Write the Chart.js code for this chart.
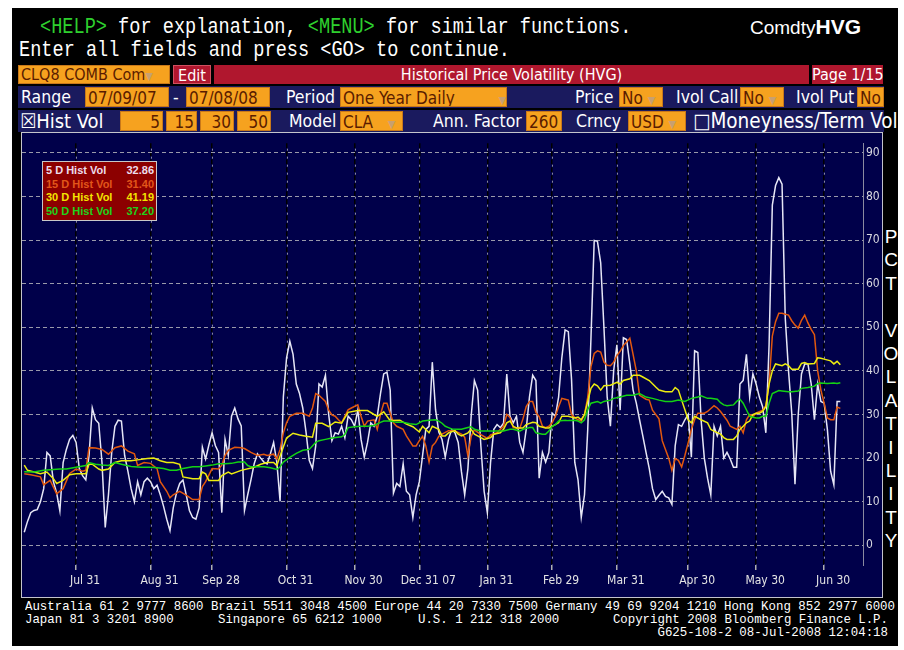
<!DOCTYPE html>
<html><head><meta charset="utf-8">
<script src="https://cdn.jsdelivr.net/npm/chart.js@4.4.0/dist/chart.umd.min.js"></script>
<style>
html,body{margin:0;padding:0;background:#fff;width:904px;height:650px;overflow:hidden;position:relative;}
#screen{position:absolute;left:12px;top:8px;width:886px;height:638px;background:#000;}
.a{position:absolute;white-space:pre;}
.mono{font-family:"Liberation Mono","DejaVu Sans Mono",monospace;color:#fff;}
.nar{font-family:"Liberation Sans Narrow","DejaVu Sans Condensed","Liberation Sans",sans-serif;}
.t{color:#fff;font-size:17.5px;line-height:22px;}
.ob{position:absolute;background:#f6a21f;color:#5a1c00;font-size:17px;line-height:20px;height:20px;box-sizing:border-box;border:1px solid #c8781a;padding:0 2px;overflow:hidden;white-space:pre;}
.band{position:absolute;left:18px;width:866px;height:22px;background:#1a1a5e;}
.red{position:absolute;background:#b0172e;color:#fff;font-size:16px;line-height:19px;height:19px;text-align:center;white-space:pre;}
.dd{color:#c8a070;font-size:11px;}
#leg{position:absolute;left:42px;top:161px;width:113px;height:58px;background:#8c0000;border:1px solid #c8c8c8;font-family:"Liberation Sans",Arial,sans-serif;font-weight:bold;font-size:11px;}
#leg div{position:absolute;left:3px;right:2px;height:13px;line-height:13px;}
#leg span.v{position:absolute;right:0;}
#pct{position:absolute;left:882px;top:225px;width:18px;font-family:"Liberation Sans",Arial,sans-serif;color:#fff;font-size:19px;}
#pct div{height:23.4px;line-height:23.4px;text-align:center;}
#frame{position:absolute;left:21px;top:132px;width:860px;height:464px;border:1px solid #c4c4cc;}
</style></head>
<body>
<div id="screen"></div>
<div class="a mono" style="left:40px;top:16px;font-size:18.6px;line-height:20px;transform:scaleY(1.18);transform-origin:0 0;"><span style="color:#2ed02e">&lt;HELP&gt;</span> for explanation, <span style="color:#2ed02e">&lt;MENU&gt;</span> for similar functions.</div>
<div class="a mono" style="left:19px;top:39px;font-size:18.6px;line-height:20px;transform:scaleY(1.18);transform-origin:0 0;">Enter all fields and press &lt;GO&gt; to continue.</div>
<div class="a" style="left:750px;top:15px;font-family:'Liberation Sans',Arial,sans-serif;color:#fff;font-size:19px;line-height:24px;">Comdty<b style="font-size:21px">HVG</b></div>

<div class="ob nar" style="left:18px;top:65px;width:152px;height:19px;line-height:18px;font-size:16px;">CLQ8 COMB Com<span class="dd">▼</span></div>
<div class="red nar" style="left:173px;top:65px;width:38px;border:1px solid #d05060;box-sizing:border-box;">Edit</div>
<div class="red nar" style="left:214px;top:65px;width:595px;">Historical Price Volatility (HVG)</div>
<div class="red nar" style="left:812px;top:65px;width:71px;">Page 1/15</div>

<div class="band" style="top:86px;"></div>
<div class="a nar t" style="left:21px;top:86px;">Range</div>
<div class="ob nar" style="left:85px;top:87px;width:84px;">07/09/07</div>
<div class="a nar t" style="left:173px;top:86px;">-</div>
<div class="ob nar" style="left:186px;top:87px;width:84px;">07/08/08</div>
<div class="a nar t" style="left:286px;top:86px;">Period</div>
<div class="ob nar" style="left:340px;top:87px;width:167px;">One Year Daily         <span class="dd">▼</span></div>
<div class="a nar t" style="left:575px;top:86px;">Price</div>
<div class="ob nar" style="left:619px;top:87px;width:44px;">No <span class="dd">▼</span></div>
<div class="a nar t" style="left:676px;top:86px;">Ivol Call</div>
<div class="ob nar" style="left:740px;top:87px;width:44px;">No <span class="dd">▼</span></div>
<div class="a nar t" style="left:796px;top:86px;">Ivol Put</div>
<div class="ob nar" style="left:857px;top:87px;width:27px;">No <span class="dd">▼</span></div>

<div class="band" style="top:110px;"></div>
<div class="a nar t" style="left:20px;top:110px;font-size:20px;">☒Hist Vol</div>
<div class="ob nar" style="left:120px;top:111px;width:43px;text-align:right;">5</div>
<div class="ob nar" style="left:166px;top:111px;width:31px;text-align:right;">15</div>
<div class="ob nar" style="left:200px;top:111px;width:34px;text-align:right;">30</div>
<div class="ob nar" style="left:237px;top:111px;width:34px;text-align:right;">50</div>
<div class="a nar t" style="left:289px;top:110px;">Model</div>
<div class="ob nar" style="left:340px;top:111px;width:63px;">CLA   <span class="dd">▼</span></div>
<div class="a nar t" style="left:433px;top:110px;">Ann. Factor</div>
<div class="ob nar" style="left:526px;top:111px;width:36px;">260</div>
<div class="a nar t" style="left:576px;top:110px;">Crncy</div>
<div class="ob nar" style="left:628px;top:111px;width:58px;">USD <span class="dd">▼</span></div>
<div class="a nar t" style="left:693px;top:110px;font-size:20.5px;">□Moneyness/Term Vol</div>

<div id="frame"><canvas id="c" width="860" height="464"></canvas></div>

<div id="leg">
 <div style="top:2px;color:#ecdcec">5 D Hist Vol<span class="v">32.86</span></div>
 <div style="top:15.5px;color:#e2561a">15 D Hist Vol<span class="v">31.40</span></div>
 <div style="top:29px;color:#f4e400">30 D Hist Vol<span class="v">41.19</span></div>
 <div style="top:42.5px;color:#1cd21c">50 D Hist Vol<span class="v">37.20</span></div>
</div>

<div id="pct"><div>P</div><div>C</div><div>T</div><div>&nbsp;</div><div>V</div><div>O</div><div>L</div><div>A</div><div>T</div><div>I</div><div>L</div><div>I</div><div>T</div><div>Y</div></div>

<div class="a mono" style="left:25px;top:600px;font-size:12.4px;line-height:13px;transform:scaleY(1.1);transform-origin:0 0;">Australia 61 2 9777 8600 Brazil 5511 3048 4500 Europe 44 20 7330 7500 Germany 49 69 9204 1210 Hong Kong 852 2977 6000</div>
<div class="a mono" style="left:25px;top:613px;font-size:12.4px;line-height:13px;transform:scaleY(1.1);transform-origin:0 0;">Japan 81 3 3201 8900</div>
<div class="a mono" style="left:218px;top:613px;font-size:12.4px;line-height:13px;transform:scaleY(1.1);transform-origin:0 0;">Singapore 65 6212 1000</div>
<div class="a mono" style="left:418px;top:613px;font-size:12.4px;line-height:13px;transform:scaleY(1.1);transform-origin:0 0;">U.S. 1 212 318 2000</div>
<div class="a mono" style="right:16px;top:613px;font-size:12.4px;line-height:13px;transform:scaleY(1.1);transform-origin:100% 0;">Copyright 2008 Bloomberg Finance L.P.</div>
<div class="a mono" style="right:16px;top:626px;font-size:12.4px;line-height:13px;transform:scaleY(1.1);transform-origin:100% 0;">G625-108-2 08-Jul-2008 12:04:18</div>

<script>
// ---- x axis: trading-day index from 07/09/07 (0) to 07/08/08 (252)
const tickDays   = [16, 39, 58, 81, 102, 122, 143, 163, 183, 205, 226, 247];
const tickLabels = ['Jul 31','Aug 31','Sep 28','Oct 31','Nov 30','Dec 31 07','Jan 31','Feb 29','Mar 31','Apr 30','May 30','Jun 30'];
const yTicks = [0,10,20,30,40,50,60,70,80,90];
const seriesNames = ['5 D Hist Vol','15 D Hist Vol','30 D Hist Vol','50 D Hist Vol'];
const lastValues = [32.86, 31.40, 41.19, 37.20];

// 5 D hist vol, one value per trading day 0..252
const vol5 = [
 3,5.5,7.5,8,8.2,10,13,21.3,20.5,14.6,
 12,7.9,19,22,24.3,25.2,23.6,17.6,16,15,
 20.6,31.5,28.8,28,19,4.1,11.6,21.3,27.3,28.7,
 28.5,20.6,17,13,10,14.6,11.6,14.6,15.4,14.6,
 13,13.8,11.6,9,6,3.4,8.6,12,14.2,15,
 11.6,8,6.4,6,8.6,22.5,19.8,23,25.8,22.9,
 21.3,7.5,24.3,20.6,29.6,31.5,29,27.4,8,11.6,
 15,18.7,21,20,19.1,18.7,21,23.6,19,10.1,
 34,43,46.8,43.8,37,34.8,31.5,26,19.5,17.6,
 22.8,37,36.3,39,30,24,25.8,25.5,27.3,24.7,
 29.6,28.8,27.3,31,24.3,20.2,23.6,28.1,27.3,29.6,
 34.8,39.3,39.7,35.6,12,14.2,13.5,18.7,12.4,11.6,
 6.4,11.6,14.6,20.6,26.6,27.3,42,31.1,26,24.3,
 20.3,24.3,26.6,25.8,23.6,16.9,11.6,17.6,29.6,37.8,
 35.6,22.8,12.4,7.5,19.1,26.6,27.7,27,28,39.3,
 29.6,28.1,29.6,23.6,21.3,26.6,34,39,37.8,15.4,
 21.3,19.1,21.3,30.3,29.6,34,43,49.4,49,38,
 19,15,6.4,11.6,26.6,47.6,69.9,69.7,64.8,50,
 34,27.3,40,46,31,47.6,47.2,41.6,35.6,32.6,
 28.8,25.1,21.3,17.6,13,10.5,11.5,12.4,11.2,10.9,
 9.4,22.8,27.7,27.3,28.8,30,20.2,44.6,44.2,28.8,
 20,15.4,11.6,27.3,25.1,27.3,20,21.3,19.8,17.9,
 17.9,37,37.8,43.8,34,39.3,37,34,31.8,25.8,
 46,78,82.5,84.3,82.8,52,40,30.3,14,30,
 39.3,41.6,41.6,37,28.8,37,33,32.6,26.6,17,
 13.9,33,33
];

// 15 D hist vol
const days15 = [0,2,5,6,8,10,12,14,16,18,19,20,22,24,26,28,30,32,34,35,37,39,41,42,44,45,46,48,50,52,54,55,56,57,58,60,61,62,63,65,67,68,70,72,74,75,77,78,79,80,81,82,84,86,88,89,90,91,93,94,95,96,97,98,100,101,103,104,105,106,108,109,110,111,112,113,114,115,117,118,120,121,122,123,124,125,126,127,128,129,131,133,135,136,137,138,139,141,143,144,146,147,148,149,150,151,153,154,155,156,157,158,159,160,161,162,163,164,165,166,167,168,169,170,171,172,173,174,175,176,177,178,179,180,181,182,183,184,185,186,187,188,189,190,192,193,194,196,197,198,199,200,201,202,203,204,205,206,207,208,210,211,213,214,215,217,218,220,221,222,223,224,225,226,228,229,230,231,232,233,234,235,236,237,238,239,240,241,242,243,244,245,246,247,248,249,250,251,252];
const vol15 = [16.4,16.2,15.7,13.9,14.9,11.8,13,16.5,17.5,17,17.2,22.4,22.3,22,20.9,22.4,22.8,21.6,21,18.3,19,18.8,17.6,14.6,12.4,10.9,11.6,12.4,11.5,10.5,10.5,13.5,14.6,16.1,17.6,17.5,18.4,20.6,21.8,22.5,22.4,22.2,21.3,20.6,20.9,20.6,20.9,19.8,22,25.8,28.1,29.6,30.3,30.3,29.6,31.5,34.8,34.4,33,31,29.9,29.6,28.8,28.1,31.1,31.5,32.2,29.6,27.3,28.5,28.8,26.6,30,32.6,32.6,30.3,28.1,27.3,26.6,25.1,22.8,22.8,24,25,22.8,19.1,22.8,23.6,25,25.5,26.3,26.2,25.5,24.8,20.5,25,26.5,25.4,24.5,25.3,25.8,26.6,27.3,30,29.3,27,26.8,29,31.8,33,33,30.5,29.5,27.3,27,27.3,28.1,29.6,31.8,33.7,33.5,33.3,30,29.3,28.8,28.5,30,34,41,44,44.6,44.3,42,41.3,41.2,42,43.5,44.5,45.8,46.6,47.5,43.8,40,34.4,33.5,33.3,31,29,24,22,20,17.2,19.9,19.5,18,20.6,23.5,26.6,28.8,30.3,30.3,30.7,32,31.5,30.7,28.7,27.3,26.6,27.3,25.8,28.8,30,29.6,30.3,31,32,37,48,51.3,53.2,53.2,53,52.8,51.5,50.5,49.8,51.6,52.8,51,49.5,48.3,40,35.6,32.6,29.2,28.8,28.8,31.7,31.4];

// 30 D hist vol
const days30 = [0,1,3,5,7,9,10,12,14,16,18,19,20,21,23,24,26,28,30,33,35,38,40,42,44,46,48,49,52,54,55,56,57,60,61,63,64,67,71,73,75,77,78,79,81,83,85,87,89,90,92,94,96,98,100,103,106,108,109,111,113,116,118,120,122,123,125,126,128,129,130,131,133,134,135,137,138,139,141,142,144,145,147,148,149,150,151,152,154,155,157,158,159,161,162,163,165,166,168,170,171,172,173,174,175,176,177,178,179,181,183,184,185,187,188,190,191,193,195,196,198,200,201,202,203,204,205,206,207,209,211,212,213,215,216,217,219,220,221,222,223,224,225,226,227,228,229,230,231,232,234,235,236,237,239,240,241,242,244,245,246,247,249,250,251,252];
const vol30 = [18.4,17.2,16.8,16.4,16.8,15.3,14.2,14.9,16.2,16.4,16.4,16.4,18.6,18.6,17.5,17.2,17.5,19,19.4,19.4,19.6,19.9,20,19.4,19,19,18.6,15.7,15.3,15.3,16.8,16.4,14.9,14.9,16,16.8,16.4,17.2,17.9,18.6,19,19,18.3,20.5,24.6,25.7,25.3,25,24.8,28,28,27.2,28.3,28,30.5,30.9,30.9,30,29.6,30.6,28.6,28.7,27.8,27.2,26,27.3,25.8,27.3,26.6,25.1,25.1,25.8,26.3,25.5,25.1,25.8,26.6,25.5,24.7,24.3,24.7,25.5,25.8,26.6,28.1,28.5,27.3,26.9,26.9,27.7,28.2,28.1,27.3,26.9,26.9,27.3,28.1,29.6,29.6,29.2,29.4,28.8,30,33,36,37,36.6,35.6,36.6,36.7,37.4,37,37.8,38.2,39,39,38.6,37.8,36.3,35.6,35.2,35.2,36.2,35.6,33.3,31.1,28.8,28.1,29.6,28.8,28.1,26.6,26.2,25.5,24.7,24.3,24.3,25.1,26.6,27.3,28.1,28.5,30,30.3,30.3,30.7,31.8,37,40,41.6,41.2,41.6,41.2,40.4,40.4,41.7,41.9,41.6,41.7,43,42.9,42.7,42.3,41.6,42.2,41.4];

// 50 D hist vol
const days50 = [0,3,6,9,11,13,16,19,20,22,24,26,28,30,33,36,39,41,43,45,47,49,52,54,56,58,60,62,64,66,68,69,70,72,74,76,78,79,80,82,84,86,88,90,91,93,95,98,99,100,102,104,106,108,110,111,113,115,117,119,121,123,125,127,128,129,130,131,132,134,135,137,138,139,141,143,145,147,148,150,151,153,154,156,157,158,160,161,162,163,164,165,167,168,170,171,172,173,174,175,177,178,179,181,182,184,186,188,190,192,194,196,198,200,202,204,206,208,209,211,212,214,215,216,217,219,220,221,222,223,224,226,227,228,229,230,231,233,234,236,237,239,240,242,244,245,246,248,250,251,252];
const vol50 = [16.9,16.8,17.2,17.4,17.5,17.5,17.9,18.3,19,18.6,18.4,18.3,19,18.6,18.1,17.9,17.9,17.8,17.6,17.2,17.2,17.6,18,18,18.2,18.4,18.7,18.7,18.8,19.1,19.1,18.3,18,18,18,17.8,17.4,18,19.1,20.2,21.1,21.8,22,23.6,24,24.3,24.6,24.9,25.4,27,27.2,27.3,27.3,27.5,28.2,28.5,28.5,28.2,28.2,27.9,27.7,28.5,28.7,28.8,28.5,28,27.3,27,26.7,26.6,26.6,27,27.2,26.6,26.2,26.2,26.2,26.2,26.2,26.6,26.6,26.2,26.6,27,27,25.8,25.5,25.5,26.2,27.3,27.7,28.5,28.7,28.6,28.7,28.5,28.1,28.8,31.1,32.6,33,32.6,33,33.3,33.7,34,34.4,34.4,34.8,34,33.7,33.3,33,33,33.3,33,33.7,34,34.3,33.7,33.7,33.5,32.7,32.2,32,32.2,33,33.5,32.6,31.1,29.6,29.2,29.2,29.6,29.6,32.6,34.8,35.5,35.4,35.2,35.2,35.4,36,36.2,36.5,37.1,37.2,37.1,37.2,37.1,37.3];

const pts = (days, vals) => vals.map((v, i) => ({x: days ? days[i] : i, y: v}));

const bgPlugin = {
  id: 'bg',
  beforeDraw(chart) {
    const ctx = chart.ctx;
    ctx.save();
    ctx.fillStyle = '#00004a';
    ctx.fillRect(0, 0, chart.width, chart.height);
    ctx.restore();
  },
  // light dashes filling the gaps of the black vertical grid dashes
  beforeDatasetsDraw(chart) {
    const ctx = chart.ctx, xs = chart.scales.x, a = chart.chartArea;
    ctx.save();
    ctx.strokeStyle = '#8a8a9a';
    ctx.lineWidth = 1;
    ctx.setLineDash([2, 6]);
    ctx.lineDashOffset = -5.5;
    xs.ticks.forEach(t => {
      const px = Math.round(xs.getPixelForValue(t.value)) + 0.5;
      ctx.beginPath(); ctx.moveTo(px, a.top); ctx.lineTo(px, a.bottom); ctx.stroke();
    });
    ctx.restore();
  }
};

Chart.defaults.font.family = '"Liberation Sans Narrow","DejaVu Sans Condensed","Liberation Sans",sans-serif';

const ds = (label, data, color, order, w) => ({
  label, data, borderColor: color, backgroundColor: color, borderWidth: w,
  pointRadius: 0, tension: 0, fill: false, order
});

new Chart(document.getElementById('c'), {
  type: 'line',
  data: {
    datasets: [
      ds(seriesNames[0], pts(null, vol5), '#e6e6f6', 4, 1.5),
      ds(seriesNames[1], pts(days15, vol15), '#e2580e', 3, 1.5),
      ds(seriesNames[2], pts(days30, vol30), '#ecec10', 2, 1.5),
      ds(seriesNames[3], pts(days50, vol50), '#14d214', 1, 1.5)
    ]
  },
  options: {
    responsive: false, animation: false, devicePixelRatio: 1,
    layout: {padding: 0},
    plugins: {legend: {display: false}, tooltip: {enabled: false}},
    scales: {
      x: {
        type: 'linear', position: 'bottom', min: -0.7, max: 259,
        afterBuildTicks: s => { s.ticks = tickDays.map(v => ({value: v})); },
        afterFit: s => { s.height = 32; },
        ticks: {autoSkip: false, maxRotation: 0, minRotation: 0, color: '#e4e4e4',
                font: {size: 12}, padding: 4, labelOffset: 9,
                callback: (v, i) => tickLabels[i]},
        grid: {color: '#000000', lineWidth: 1.5, drawTicks: true, tickLength: 5, tickColor: '#b0b0b0'},
        border: {display: false, dash: [5, 3]}
      },
      y: {
        type: 'linear', position: 'right', min: -4.5, max: 92.2,
        afterBuildTicks: s => { s.ticks = yTicks.map(v => ({value: v})); },
        afterFit: s => { s.width = 19; },
        ticks: {color: '#d8d8e0', font: {size: 12}, padding: 3},
        grid: {color: '#9a9aaa', lineWidth: 1, drawTicks: false},
        border: {display: true, color: '#8a8aa0', width: 1, dash: [4, 3]}
      }
    }
  },
  plugins: [bgPlugin]
});
</script>
</body></html>
